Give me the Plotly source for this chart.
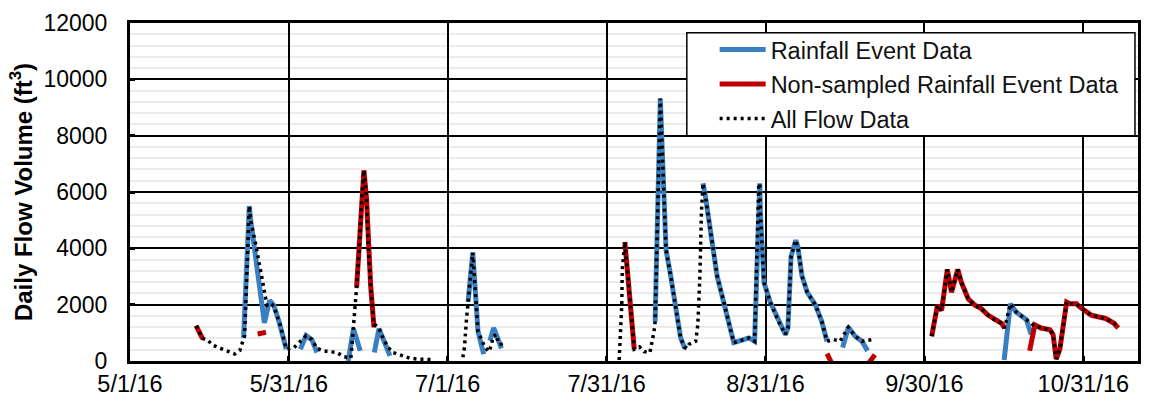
import pandas as pd
import plotly.graph_objects as go

START = pd.Timestamp("2016-05-01")

# Daily flow volume (ft3); day offsets counted from 5/1/16, None marks a break
flow_days = [12.7, 13.9, 14.8, 15.9, 17.4, 18.8, 20.1, 21.1, 21.6, 22.0,
             22.9, 23.2, 24.1, 25.6, 26.3, 26.9, 27.6, 28.8, 30.0, 31.5,
             32.7, 33.8, 34.9, 35.9, 37.1, 38.4, 39.7, 41.1, 42.4, 43.5,
             44.0, 44.5, 44.9, 45.4, 45.7, 46.2, 46.8, 47.3, 47.8, 48.7,
             49.6, 50.5, 52.1, 53.7, 55.2, 56.9, 58.2, None,
             63.9, 64.2, 64.6, 64.9, 65.8, 66.8, 67.4, 68.1, 68.9, 69.4,
             69.7, 70.4, 70.6, 71.1, 71.6, None,
             93.9, 94.0, 94.2, 94.4, 94.5, 95.0, 96.8, 97.8, 98.7, 99.8,
             100.6, 100.8, 101.8, 102.9, 103.8, 105.7, 106.4, 106.9, 107.3, 108.6,
             109.0, 109.4, 109.7, 110.0, 110.5, 112.7, 114.3, 115.9, 117.8, 118.8,
             119.9, 120.3, 120.7, 120.9, 121.0, 121.7, 122.9, 124.5, 125.8, 126.3,
             126.9, 127.8, 128.2, 129.0, 130.0, 131.6, 132.8, 133.8, 135.1, 136.3,
             137.9, 139.2, 140.5, 142.4, None,
             153.9, 154.8, 155.0, 155.8, 156.9, 157.7, 158.9, 159.6, 160.9, 162.2,
             163.4, 164.7, 166.0, 167.3, 167.9, 169.0, 170.1, 172.1, 173.4, 174.9,
             176.6, 177.2, 177.8, 178.5, 179.1, 179.8, 180.4, 181.7, 182.3, 183.2,
             184.5, 185.8, 187.3, 188.9, 189.7]
flow_vol = [1250, 800, 760, 560, 450, 340, 250, 380, 650, 900,
            5500, 4960, 4170, 2560, 1980, 2050, 1950, 1300, 420, 475,
            700, 900, 760, 450, 360, 320, 300, 150, 100, 2610,
            3940, 5790, 6770, 5790, 4170, 2670, 1280, 1250, 1150, 760,
            475, 300, 185, 100, 70, 45, 45, None,
            130, 475, 1500, 2100, 3850, 1050, 760, 500, 330, 580,
            870, 940, 700, 680, 420, None,
            35, 360, 1050, 1980, 3250, 4230, 420, 500, 330, 300,
            1050, 1400, 9320, 3940, 3020, 820, 500, 450, 590, 700,
            1280, 3020, 5330, 6310, 5790, 3020, 1860, 650, 760, 820,
            700, 3020, 6250, 6310, 5300, 2790, 2090, 1400, 940, 1170,
            3710, 4290, 4060, 3020, 2440, 1980, 1400, 700, 760, 700,
            1200, 880, 700, 760, None,
            880, 1740, 1980, 1800, 3250, 2440, 3250, 2790, 2210, 1980,
            1860, 1630, 1460, 1340, 1170, 2030, 1740, 1460, 1280, 1170,
            1110, 940, 70, 420, 1280, 2090, 2030, 2030, 1920, 1800,
            1630, 1570, 1510, 1340, 1170]

# Sampled rainfall events
rain_days = [21.8, 22.9, 23.2, 25.8, 26.8, 27.6, 28.6, 30.0, None,
             32.7, 33.8, 34.9, 35.9, None,
             41.9, 42.9, 44.2, None,
             46.9, 47.8, 49.9, None,
             64.9, 65.8, 66.8, 67.9, None,
             69.1, 69.8, 70.4, 71.3, None,
             100.8, 101.8, 102.9, 103.8, 105.7, 106.4, 106.9, None,
             110.0, 110.5, 112.7, 114.3, 115.9, 117.8, 118.8, 119.9, 120.3, 120.7,
             120.9, 121.0, 121.7, 122.9, 124.5, 125.8, 126.3, 126.9, 127.8, 128.2,
             129.0, 130.0, 131.6, 132.8, 133.8, None,
             136.8, 137.9, 139.2, 140.5, 141.6, None,
             167.8, 169.0, 170.1, 172.1, 173.0]
rain_vol = [820, 5500, 4950, 1350, 2150, 1980, 1400, 420, None,
            420, 900, 760, 300, None,
            0, 1150, 360, None,
            300, 1150, 180, None,
            2100, 3850, 1050, 240, None,
            720, 1170, 900, 450, None,
            1400, 9320, 3940, 3020, 820, 500, 450, None,
            6310, 5790, 3020, 1860, 650, 760, 820, 700, 3020, 6250,
            6310, 5300, 2790, 2090, 1400, 940, 1170, 3710, 4290, 4060,
            3020, 2440, 1980, 1400, 700, None,
            475, 1200, 880, 700, 360, None,
            35, 2030, 1740, 1460, 940]

# Rainfall events that were not sampled
nonsampled_days = [12.7, 13.9, None, 24.5, 26.1, None,
                   43.5, 44.0, 44.5, 44.9, 45.4, 45.7, 46.2, 46.8, 47.3, None,
                   95.0, 96.8, None, 133.8, 134.9, None, 141.7, 143.0, None,
                   153.9, 154.8, 155.0, 155.8, 156.9, 157.7, 158.9, 159.6, 160.9, 162.2,
                   163.4, 164.7, 166.0, 167.3, 167.9, None,
                   172.7, 173.7, 174.9, 176.6, 177.2, 177.8, 178.5, 179.1, 179.8, 180.4,
                   181.7, 182.3, 183.2, 184.5, 185.8, 187.3, 188.9, 189.7]
nonsampled_vol = [1250, 800, None, 960, 1020, None,
                  2610, 3940, 5790, 6770, 5790, 4170, 2670, 1280, 1280, None,
                  4230, 420, None, 265, -150, None, -100, 220, None,
                  880, 1740, 1980, 1800, 3250, 2440, 3250, 2790, 2210, 1980,
                  1860, 1630, 1460, 1340, 1170, None,
                  360, 1280, 1170, 1110, 940, 70, 420, 1280, 2090, 2030,
                  2030, 1920, 1800, 1630, 1570, 1510, 1340, 1170]

# Major date gridlines every 30.5 days, labelled with the calendar day
tick_days = [0, 30.5, 61, 91.5, 122, 152.5, 183]
tick_labels = ["5/1/16", "5/31/16", "7/1/16", "7/31/16", "8/31/16", "9/30/16", "10/31/16"]
y_ticks = [0, 2000, 4000, 6000, 8000, 10000, 12000]


def to_dates(days):
    return [START + pd.Timedelta(days=d) if d is not None else None for d in days]


FONT = "Arial, Liberation Sans, sans-serif"

fig = go.Figure()
fig.add_trace(go.Scatter(
    x=to_dates(rain_days), y=rain_vol, mode="lines", name="Rainfall Event Data",
    line=dict(color="#3a7fc1", width=5), connectgaps=False, legendgroup="a"))
fig.add_trace(go.Scatter(
    x=to_dates(nonsampled_days), y=nonsampled_vol, mode="lines",
    name="Non-sampled Rainfall Event Data",
    line=dict(color="#c00000", width=5), connectgaps=False, legendgroup="b"))
fig.add_trace(go.Scatter(
    x=to_dates(flow_days), y=flow_vol, mode="lines", name="All Flow Data",
    line=dict(color="black", width=3.5, dash="3px,4px"), connectgaps=False,
    legendgroup="c"))

# Legend frame (white box over the plot, drawn under the legend entries)
fig.add_shape(type="rect", xref="paper", yref="paper",
              x0=0.5524, x1=0.997, y0=0.6667, y1=0.971,
              fillcolor="white", line=dict(color="black", width=1.5), layer="above")

fig.update_layout(
    width=1151, height=407,
    margin=dict(l=130, r=10, t=22, b=40),
    paper_bgcolor="white", plot_bgcolor="white",
    font=dict(family=FONT, size=23, color="black"),
    showlegend=True,
    legend=dict(
        x=0.580, y=0.986, xanchor="left", yanchor="top",
        bgcolor="rgba(0,0,0,0)", borderwidth=0,
        font=dict(family=FONT, size=23.5, color="#111111"),
        tracegroupgap=1, itemwidth=46,
    ),
)

fig.update_xaxes(
    type="date",
    range=[START, START + pd.Timedelta(days=193.5)],
    tickvals=to_dates(tick_days), ticktext=tick_labels,
    showgrid=True, gridcolor="black", gridwidth=1.5,
    showline=True, linecolor="black", linewidth=3, mirror=True,
    ticks="inside", ticklen=5, tickwidth=3, tickcolor="black",
    zeroline=False, tickfont=dict(family=FONT, size=23.5),
)
fig.update_yaxes(
    range=[0, 12000], tickvals=y_ticks, ticktext=[str(v) for v in y_ticks],
    showgrid=True, gridcolor="black", gridwidth=1.5,
    minor=dict(dtick=400, showgrid=True, gridcolor="#ebebeb", gridwidth=1.5),
    showline=True, linecolor="black", linewidth=3, mirror=True,
    ticks="inside", ticklen=5, tickwidth=3, tickcolor="black",
    zeroline=False, tickfont=dict(family=FONT, size=23),
    ticklabelstandoff=15,
    title=dict(text="<b>Daily Flow Volume (ft<sup>3</sup>)</b>",
               font=dict(family=FONT, size=24), standoff=5),
)

fig.write_html("out.html")
